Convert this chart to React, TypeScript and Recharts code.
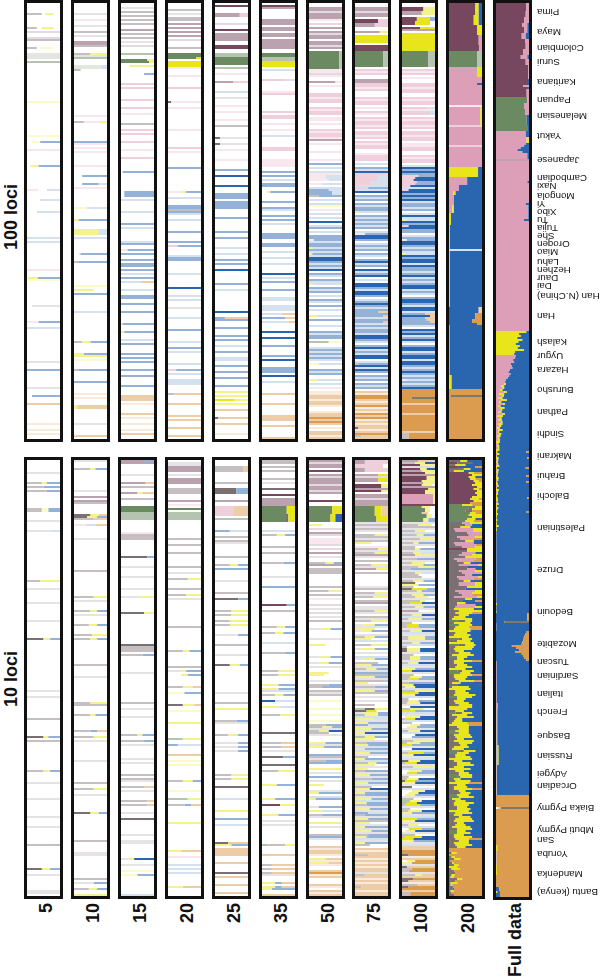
import { BarChart, Bar, XAxis, YAxis } from 'recharts';

// stack order, left to right. lower case = strong, upper = washed out, the rest = faint
const COLORS: Record<string, string> = {
  w: '#ffffff', m: '#76475f', M: '#baa3af', n: '#e3dadf', g: '#6b8a62', G: '#b5c4b0', h: '#e2e8e0',
  a: '#7a7074', A: '#c6bfc2', c: '#e6e3e4', p: '#dd9fb8', P: '#eecfdb', q: '#f8e7ee', v: '#ffffff',
  y: '#e9e51b', Y: '#f4f28d', z: '#fbfac9', b: '#2a65b0', B: '#94b2d7', e: '#d5e1ef',
  o: '#db9c4f', O: '#edcda7', r: '#f8ebdb', x: '#7d7a6a',
};
const STACK = Object.keys(COLORS);

const SIZES = ['5', '10', '15', '20', '25', '35', '50', '75', '100', '200'];

// each entry is row or row-row, then the share of every cluster in that row
const LOCI100 = [
  '5:A45v10Y25 12:A30v15Y35 14:n 17:n 18:A 22:A30v10z40 25:h 26:c 27:h 29:G 49:z 66:z 69:w15z25B 73:q 81:w5Y25v5B 93:q35v25e 98:w40e 104:w30e 117:e 119:e 133:q 137:w3Y30B 138:z 151:w15c 159:q35B 162:e 179:c 183:B 192:c 196:w15B 200:O 210:r 213:r 215:r',
  '5:c 8:q 11:c 14:A 16:c 19-20:M 21:A 25:A50Y 26:c 27:G 31-32:h80e 33:G20 56:q 59:A30q50Y 69:B 70:q 72:q 74:q 81:q 86:w25B 90:w25e25B 92:q 102:z40e 108:Y15B 113-115:Y75e 117:e 125:w15Y5B 129:A15B 141:z 143:Y60 145:B 154:e 169:A25Y25B 175:Y30B 176:Y 178:z 183:A15B 189:B 195:r 197:r 201-202:Y10O 210:c 216:O',
  '2:c 4:A 6:A 8:A 10:A 13:M 15:A 17:A 19:c 21:n 25:G 28:g80Y 29:g85Y 31:w25Y 35:w70B 40:P 42:P 48:P 52:P 55:q 60:A 63:P 65:P 69:P 73:q 77:P 84:w5B 94-96:w10B 98:e 104:e 110:B 112:e 119:e 120:B 123:q20B 125:B 128:B 130:B 131:B 133:B 135:e 137:B 139:e60O 143:e 146:B 147:B 150:B 154:B 160:Y5B 164:Y10B 168:e 170:B 175:B 177:B 179:B 183:B 186:B 191:B 196-198:O 200:r 205:O 207:r 210:r 213:r 215:O',
  '3:A 5:c 7:A 8:A 10:M 12:M 14:M 16:M 18:n 22:A 25-26:g 27:g85y 29-31:y 32:q 36:q 42:P 49:a10q 52:q 63:q 72:P 74:q 82:B 94:q40Y15B 97:e 101-102:B 103:A 104:B 105:e 108:e 114:B 119:B 121:P30B 126:e 127-128:B 135:e 142:b 146:e 148:e 152:c 157:e 163:B 169:e 172:B 174:e 180:e 183:P25B 185:e 188-190:e 195:A20O 200:O 206:O 208:O 212:O 216:O',
  '1:m 5-6:M75P 10:n 13:m 15-17:M 18:M 21:m 22:m 25-26:G 27-29:g 30:g 32:G 35:q 39:M55P 44:e 47:c 51:q 54:q 58:q 61:A 67:a15c 70:a15c 73:q 78:q 83:B 86:b 91:b 95-97:B 99-102:B 107:B 114:B 117:B 122:e 125:e 128:B 130:B 133:b 140:B 143:e 154:b 157:B30O 158:B 162:B 166:B 168:B 171:e 174:B 177-178:e 181:B 184:B 187:B 191:B 194:Y 196:Y 198:y60Y 200:Y 203:O 207:a10O 210:O 215:r',
  '1:m 2:M 8-10:M 12-13:M 15:M 16:M 18-22:M 25-26:g 27-28:G 29-31:y 33:e 38:P70e 44:q 45:P 54:P 56-57:P 60:q 63:q 66:e 72-73:P 78-81:q 84:B 86:B 88:e 90:B 91:B 94:w15Y10B 99:B 102:B 103:e 106:B 108:B 110:e 115-117:B 120:B 121:B 124:e 127:e 130:e 135:b 137:e 139:B 143:B 147-148:e 151-153:e 155:e60O 157:B70O 159:O20e 164:b 167:b 171:B 176:B 178:b 182-184:B 186:b 189:e 195:O 200:O 206-208:O 211:O 217:O',
  '2-3:M 4:n 5-6:M 7:M 8:q 10:n 12:M 14:M 15:n 16-17:M 19-20:M 21:n 22:M 24-32:g92G 33:q 34:q 35:n 36:q 39:M80q 41:q 45:P 46:P 47:q 48-49:P 52:P 53:q 54-55:P 57:q 58:q 60:q 63:P 64:q 65-66:P 67:q 68:M 70:q 74:q 78:q 80:B 82:e 84:e 85:q 86-87:q50e 88:q60e 90:q40e 92:e 93:e40B 94-95:e30B 96:A30B 98:e 100:e 101:z 103:q 105:e 107:e 109:b 111:e 112:B 114:e 116:B 117:B 118:q15B 119:e 120-121:B 122:Y10e 123:B 124:e 125:Y10B 126:e 127-128:b 129:B 130:e 131:B 132:e 133:b 135:B 136:e 138:B 139:e 140:Y10e 142:B 143:e 144:B 146:e 148:B 149:e 151:B 153:e 156:Y25e 158:B 161:e 164:B 165:e 166-167:B 169:G60z 172:e 173:B 174:e 175:B 176:e 177:B 178:e 180:z30e 183:B 184:e 185:B 188:Y25e 190:e 192:q 194:r 195:r 196-197:O 198:r 199:O 200:O 201:r 204:r 205-206:O 207:o 208:O 209:o 210:O 212:r 214:O 215:O 216:r 217:O',
  '2-3:M 4:n 5-6:M 8-9:m70P 10-11:M60P 14:M75Y 16-19:y 21-23:m 24-31:g85G 33:P 34:q 35:P 38:M 39:M 40-41:P 42:q 43:P 47:P 48:q 49-50:P 52:q 54:P 55:q 57:P 58:q 59-60:P 61:q 62:P 64-65:P 66:q 67:P 69:P 70:q 71-72:P 75:q 76-78:P 80:e 82:B 83:e 84:b 85:P 86-88:P70e 89-90:P50e 91:e 92:P40B 93:e 94:b 96:B 97:e 98:B 100:B 101:e 102-103:B 104:Y10e 106:B 107:e 108:B 109:e 110:B 111:e 112:B 114:e 115:q30B 116-117:b 118:B 120:e 121:B 122:e 123:B 125:B 126:e 128:B 129:b 130:e 131:B 133:b 134:e 135:B 136:b 138:e 140:b 141:b 142:B 143:e 144-145:b 146:B 148:e 149:B 150:b 151:B 152:e 153:B 154:B70O 155:B 156:B85O 157:e 158:B 159:B85O 160:e 161:B 162:e 163:B 164:B 165:e 166:b 167:b 168:B 169:e 171:B 172:b 173:e 174:B 175:e 176-177:b 179:e 180:A10B 181:b 182:e 183:b 184:B 186:B 187:e 188:B 190:B 191:e 192:B 194:O 195:r 196-197:o 198:O 199:r 200:O 201:o 202:r 203:O 204:r 205:o 206:O 207:o 208:r 209:O 210:r 211:O 212:a10O 213:r 214:O 215:o 216:A20O 217:O',
  '2-3:m65Y 4-5:M60Y 7-8:m45y40B 9-10:m40y45 12:m55y 13:M 15-23:y 24-31:g80G 33:P 34:q 35:P 37:q 40-41:P 42:q 43-44:P 47:P 48:q 49-50:P 52:P80e 53:q 54-55:P85e 57:P 58:q 59-60:P 61:q 62:P 64-65:P 66:q 67-68:P 70:q 71:q 72-73:P 76:P 77:q 78-79:P 81:e 82:b 83:B 84:b 85:B 86:P50B 87:P40b 88:P35b 89:P45B 90:P40B 91:P25b 92:e 93:P20b 94:b 95:B 96:b 97:B 98:b 99:e 100-101:B 102:e 103:B 105:e 106:b 107:e 108:Y15e 109:b 110:B 111:P20b 112:b 113:B 114:B 116:e 117:B 118:q15B 119:b 120:b 121:B 122:e 123:B 124:e 125:Y10e 126:b 127:B 128:b 129:b 130:e 131:b 132:B 133:B 134:e 135:B 136:b 137:e 138:B 139:e 140:B 141:b 142:b 143:e 144:B 145:e 147:B 148:b 149:b 150:B 151:e 152:b 153:b 154:e 155:B70O 156:b85O 157:B70O 158:B75O 159:B85O 160:B 161:e 163:b 164:B 165:b 166:e 167:B 168:b 169:e 171:B 172:b 173:b 174:e 175:B 176:b 177:b 178:e 179:b 180:b 181:B 182:e 183:B 184:b 185:B 186:e 187:B 188:q15e 189:B 190:e 191:B 192:b 193-199:o 197:o30x 200:O 201-204:o 205:O 206-213:o 214:O 215-217:A20o',
  '0-5:m80y10b 6-10:m75y15b 11-15:m85y 16-20:m90p 21-23:m92p 24-31:g85G 32-36:p85y 37-39:p 40:p85b 41-50:p 51:q 52-60:p95y 61:P 62-70:p 71:P 72-81:p 82-86:y88b 87-90:p55b 91-93:p30b 94-95:y8p12b 96-100:p15b 101-104:p10y5b 105-110:y6b 111-122:y3b 123:e 124-151:y3b 152-154:b90O 155-157:b80o 158-159:b70o 160:b85o 161-185:y2b 186-192:y8b 193-195:o 196:o5x 197-217:o',
];

const LOCI10 = [
  '6:c 11:A45Y15B 13:A50B 15:A60B 24-25:A45z20B 30:c 35:c70e 60:A40Y 64:c 71:c 80:c 89:a50Y20B 115:c 118:c 129:A 138:a50Y15B 140:A 155:A50Y20B 161:c 169:c 178:c 183:c 192:A 204:a45Y25B 207:c 215:c 216:c',
  '0:c 4:A50Y15B 15:c 18:M 20:M 21:A 27:a50Y25O 28:a40Y30B 29:A60O 32:q35e30O 39:c 55:A 68:A60Y 70:c 75:A50Y20B 77:c 82:A45Y25B 87:A55Y 89:A50Y20B 102:A 108:c 121:A50Y 122:A 127:A50Y15B 135:A50B20O 138:A60Y 140:c 150:c 161:A 164:A60Y 167:c 176:a50Y25B 190:A 196:c 197:c 209:A 211:c60B 214:A45Y25B 217:Y',
  '0:M70B 1:M 7:c 11:M75O 13:A 16:M50Y15O 19:A 23-25:g 26:G 27-29:G 36:q 37-39:A 48:a80B 53:c 58:c 64:c 68:c60Y 76:a70Y 92:a 93-95:A 97:A65B 106:c 121:A 124:c 128:c 137:A50Y15B 140:A70B 142:c 149:c 151:c 157:A 159:A 160:c 163:A70O 165:c 170:A80O 172:A80O 176:c 179:a 187:c 190:c 191:c 199:c25Y15b 202:c 205:z 207:z50B 217:e',
  '1-2:c 3-5:M 7:c 9-11:M 14-16:A 20:M 22:q 24:g 26-29:G 39:A 42:A 46:A 53:A 56:c 59:A60Y 64:A 67:A55Y 69:c 83:A 95:A45Y20B 103:A 105:c40Y15B 107:w40Y20B 113:A45Y30O 116:z50B 122:a45Y35O 125:z 131:Y 139:G45Y 142:e70B 147:O 150:z 152:z 160:A45Y30B 165:z 169:G60Y 172:A50B20O 181:Y 195:O60Y 198:q 202:e 204:e 206:e 213:Y45O',
  '3-5:A85O 11:A 14-16:a65B 20:M 23-27:P55O 29:G 35:B45e 38:A 40:A 41:c 48:A 52:A45Y25B 54:B 60:c 66:A 69:a70B 75:A50Y 77:A50Y 80:A45Y 82:A45Y 87:c70B 92:A 97:c 102:a45Y30B 116:c 121:A 124:Y 130:A65B 131:c 137:A40Y30B 141:c70B 143:c70B 145:c70B 157:A50Y 159:A50Y 163:a 169:e 175:Y 179:B 182:e 191:a40O 192:Y50B 194-197:O 201:O 206:a 208:O 212:O 216:O',
  '0-1:A 3:A 5:A 9:A 11:c 14:a 17:m 19-22:M 23-26:g75y 27-30:g70a10y 35:e 37:A45Y25B 43:A 46:A 51:A65B 58:c 63:B 72:m75B 75:A 83:A45Y25B 86:A40Y25B 91:e 96:A70B 105:A50Y 107:A50Y 112:Y50B 114:Y50B 115:e 117:A40Y25B 120:e60b 123:e50Y 127:A55Y 136:a 141:A60O 143:A60O 145:c 148:a65B 152:a 155:A50Y 162:Y45B 169:B60Y 172:m55Y 177:Y50B 180:c 182:c 192:A50G20Y 197:O 202:A30O 204:A30O 206:A30O 207:c 211:Y40B20O 213:Y40B20O 214:Y30B 217:O',
  '0:M 1:n 2-3:M 5:m 7:M 8:n 9:M 10-11:M 12:n 13-14:M 15:n 16:M 20:m 23-26:g70y 27-30:g65y15b 32:Y40 34:n 36:M 37:n 39-41:q 42:n 44:n 46:M 48:c 51:A50Y25B 52:M 54-56:A 63:A 65:A60Y 67:A 69:q 72:n 74:c 76:n 78:c 80:A 84:c40Y25B 89:c 92:Y50 98:c30Y35B 101:c30Y30B 103:c 106:Y60 107:Y45 110:c 112:A60B 113:A40B 115:A 116:c 117:A 120:z 124:z 127:z 130:z 132:A50B 133:G40Y30B 134:c 135:A30Y30b 136:A60 137:c 141:Y50B 142:c 143:Y45B 147:B 148:A 149:c 150:A50B 151:B 154:Y 156:c 158:B 160:c 162:Y45 165:c 166:Y30B 168:e 169:Y20B 173:c30B 175:Y40e 177:A40B 178:c 181:Y 183:c 187:A 188:B 189:c 193:O 194:r 195:O 196:O 197:r 199:Y50O 200:r 201:Y60O 202:r 205:O 206:o 207:r 208:O 212:O 213:r 215:O 216:r 217:O',
  '0-1:P70M 2-3:P85 4-5:P70M 7:M70y 8:n 9-10:M70y 12-13:m80Y 14:M 15:m80Y 17-18:M 19:n 20-22:M 23-27:g60y20O 28-30:g65y 31:c 32:A 33:c 34:A 35:c 37:A60Y 38:A 39:c 40:A 41:Y50 43:q 44:A70Y 45:c 46:A60Y 47:M 48:c 50:A 52:A50Y 53:c 54:M65Y 56:A 63:c 64:A 66:A60Y 67:c 68:A55Y 70:A 71:M 73:c 74:c 75:A60Y 76:c 78:A 79:c 80:A50Y 82:c25Y35B 83:c 84:Y60 85:c20Y30B 87:c 88:A30Y30B 89:Y50 90:e 92:A50Y 94:c20Y40B 96:c 98:e 99:c25Y35B 101:A70 102:Y50B 103:c 104:A35Y30B 105:c 106:B 107:A 108:Y60B 109:c 110:A 111:Y40 112:c 113:A60B 114:c 115:Y60B 116:A 118:c 120:c 122:A60 124:a30Y40G 125:a35y30 126:c25Y45B 127:G30Y40B 128:e 129:Y55e 130:c 131:Y40B 132:e60B 133:c 134:Y50B 135:c 136:Y30b 137:c 138:G30Y30B 139:Y60 140:c 141:A35B 142:Y40B 143:e 144:c30B 145:e 146:Y45B 147:c 148:A40 149:Y30B 150:e 151:A40Y25B 152:Y60 153:c 154:Y40 155:A30B 156:c 157:Y45B 158:c 159:A50B 160:e 161:Y40B 162:c 163:A50 164:Y45b 165:c 166:Y30B 167:A30B 168:c 169:Y50B 170:e 171:Y35B 172:A35B 173:c 174:Y45B 175:c 176:e60B 177:A30B 178:c 179:Y40B 180:A 181:Y45 182:c 183:Y30B 184:c 185:Y50B 186:c 187:A40B 188:Y35B 189:e 190:c 191:Y30B 192:A45 194:O 195:r 196:O 197:A40O 198:O 199:r 200:O 201:r 202:O 203:r 204:O 205:O 206:c 207:A30O 208:O 209:r 210:O 211:r 212:O 213:A20O 214:O 215:r 216:O 217:O',
  '0:M50O 1:A40Y30b 2:m55Y 3:n 4:m55Y20b 5:M60Y 6:m70Y 7:M 8-9:m75Y 10:m60Y 11:M65Y 12:m60Y30 13:M 14:m80Y 15-16:m70Y 17-21:p95Y 22:m 23:g60Y25 24-25:g70Y15 26:g60O20 27-28:g75Y15 29-30:g65Y15B 31:c 32:A50Y40 33:A 34:c 35:A40Y30 36:e 37:A45Y20B 38:c 39:A55Y 40:c 41:A35Y15B 42:c 43:A40 44:A40Y15B 45:c 46:A35Y20e 47:M40Y 48:c 49:A45B 50:c 51:A30Y40 52:c25Y40B 53:A50Y 54:A25B 55:c 56:A40Y20e 57:A50 58:A60 59:c 60:A35Y30B 61:a40 62:Y50B 63:A35 64:a30y45B 65:A45Y15B 66:c 67:A30Y35B 68:A40Y40 69:c 70:A55Y15 71:A25y35b 72:c 73:A40Y25B 74:c 75:M50 76:c 77:A30Y30b 78:e 79:A20Y40B 80:c 81:A30 82-83:A15y35B 84:c 85:A25Y35b 86:e 87:c 88-89:A20Y50B 90:c 91:A30Y25B 92:e 93:A15 94-95:a15Y40b 96:c 97:A35 98-99:A25Y30B 100:c 101:A20Y30b 102:e 103:c 104:Y40B 105:y30b 106:c 107:A35 108:A25Y35B 109:A20y30B 110:c 111:A20B 112:Y35b 113:A10Y30b 114:e 115:A40Y 116:y50b 117:Y40b 118:e 119:A20 120:A20Y30B 121:A15Y40b 122:c 123:w25b 124:A25Y40 125:y40B 126:e 127:c 128:w10Y45b 129:A10y30b 130:e 131:A30 132:w25Y30B 133:w15Y30B 134:c 135:A20Y35b 136:e 137:w40b 138:w30B 139:c 140:A35Y 141:A15Y40B 142:y30B 143:c 144:w30b 145:e 146:A20y45B 147:Y35b 148:c 149:e 150:a20Y35b 151:A10y35b 152:c 153:A35Y 154:e 155:w20Y40B 156:w15y30B 157:c 158:A20 159:A15Y35b 160:a10y30B 161:Y40b 162:c 163:a30 164:e 165:w30Y40b 166:w20Y30b 167:w10Y30B 168:c 169:A35 170:G25Y35b 171:G15y30b 172:A10y45B 173:c 174:A25 175:A20Y40b 176:Y30B 177:c 178:e 179:y45B 180:Y40b 181:c 182:A20Y30 183:e 184:w20y40B 185:w10Y30b 186:c 187:A40 188:A10y50b 189:y35b 190:Y35B 191:c 192:e 193:O 194:O 195-196:o 197:a20o 198:r 199:O 200:w15Y25o 201:Y30o 202:c 203:a15O 204:A30o 205:A20o 206:c 207:A40Y20O 208:O 209:a35o 210:a20O 211:r 212:A50O 213:a20o 214:o 215:O 216:A25o 217:A25o',
  '0:a35y20b 1:a45m25b 2:a20y30b 3:m30b50o 4:a45y20b 5:a15y30b 6:m60y15o 7:m70y 8:m60y20b 9:m65y15o 10:m75y15o 11:m80y 12:m70y 13:m85y 14:m75y15o 15:m85y 16:m80y 17:m85y 18:m70y 19:m65y25o 20:m75y 21:m65o 22:g40y30o 23:g70a10y 24:g60a10y 25:a20g50o 26:g65y15o 27:g60y 28:g70y 29:g55y25b 30:g50y25o 31:a40p25y 32:a50p20b 33:a35y30b 34:p60a15y 35:p55a20y 36:a55p 37:a60p 38:a25p55y 39:a35p40o 40:a50y25b 41:p60a15b 42:p60a20o 43:a40p40y 44:m55y 45:a55y 46:a40p40b 47:a30p40y 48:a50y 49:p65a15o 50:p50a25o 51:a45y20b 52:a30p60y 53:a55b 54:a55p25b 55:a30p50y 56:a40p 57:a50p20b 58:a25p65y 59:a30p45o 60:a45y20b 61:a30p50y 62:p50a30y 63:a55y 64:a50b 65:p60a20y 66:a30p40y 67:a40p30o 68:p70a15y 69:a50y20b 70:a40o20b 71:a25y25b 72:a25p55b 73:p60a20y 74:a15y60b 75:a30y 76:a20y50o 77:a30y30b 78:a15y35b 79:a10y60b 80:a25g25y20b 81:a15y50b 82:g30y40b 83:a20y40o 84:a15y50o 85:y65b 86:a20y35b 87:a15y50b 88:y60b 89:a10g30y30b 90:a25y40b 91:y75b 92:a20g30y30b 93:a20y55b 94:a15y55b 95:a20y25b 96:a30y35b 97:a10y65b 98:g25y30b 99:a25y20b 100:a15y55o 101:a15y30b 102:a25y30b 103:a20y50b 104:y50b 105:a15g25y35b 106:g35y30b 107:a15y55o 108:a15y40b 109:a20y30b 110:a30y45o 111:a10y25b 112:a25b 113:a10y50b 114:y65b 115:a20y30b 116:a20y40b 117:a15y65b 118:g25y45b 119:a25y25b 120:a15y30b 121:a20y40b 122:a30y40b 123:y70b 124:y55b 125:a20y25b 126:a20g20y30b 127:a10y45b 128:a25y50b 129:a20y20b 130:a15y25b 131:a10y45o 132:y60o 133:a25y35b 134:a30y30b 135:g20y40b 136:g30y30b 137:a15y50b 138:a20y50b 139:a25y20b 140:a15y60b 141:a30y40b 142:a35y20b 143:a15y45b 144:a10y35b 145:a15g30y35b 146:g25y35b 147:a20y30b 148:a20y45b 149:y70b 150:a15y25b 151:a25y40b 152:a25y50b 153:a15y30b 154:y65b 155:a20y25b 156:a30y30b 157:g30y40b 158:g35y35b 159:a15y20b 160:a20y45b 161:y60o 162:a25y25b 163:a15y40b 164:a15y55o 165:a30y20b 166:a35y30b 167:g25y35b 168:g30y45b 169:a10y25b 170:a20y30b 171:a15y60b 172:a15y45b 173:a25y30b 174:a25y40b 175:y60b 176:g20y50b 177:a15y25b 178:a30y35b 179:a20y50b 180:a15y60b 181:a25y20b 182:a20y30b 183:a10y55b 184:a25y45b 185:g25y25b 186:g25y40b 187:a15y30b 188:a15y55b 189:a20y40o 190:a30y30b 191:a15y45b 192:a20y50b 193:a25y25b 194-195:o 196:a8y15o 197:o 198:a8y10o 199:a15y20o 200:a5o 201:a10y5o 202:a15y15o 203:y25o 204:a8y25o 205:a15o 206:a20o 207:a8y10o 208:a5y10o 209:a25y15o 210:a18o 211:a5y20o 212:a5y5o 213:a12o 214:a10b5o 215:a5y10o 216:a8o 217:a15o',
];

const FULL_DATA =
  '0-3:m92p 4-6:m90p 7-9:m85p 10-11:m80p15b 12-14:m85p10b 15-17:m78p12b 18-19:m88p 20-22:m90p 23-25:m82p 26-27:m75p20b 28-30:m90p 31-37:m98p 38-40:m97b 41:m82p 42:m97b 43-46:m93p 47-49:g95p 50-52:g85p 53-55:g88p 56-60:g93b 61-63:g97b 64-66:p90b 67-69:p93y 70:p90b 71:p85b 72:p75b 73:p65b 74:p80b 75-77:p95b 78:M 79-88:p 89:p95b 90-99:p 100:p90b 101-107:p98b 108:p85b 109-163:p 164:y92b 165:y70b 166:y75b 167:y65b 168:y80b 169:y68b 170:y60b 171:y72b 172:y66b 173:y85b 174:y58b 175:y55b 176:p60b 177:p58b 178:p52b 179:p55b 180:p45b 181:p48b 182:p50b 183:p42b 184:p38b 185:p44b 186:p40b 187:p36b 188:p30b 189:p28b 190:p25y5b 191:p15y10b 192:p20y5b 193:p12y8b 194:p25y8b 195:p10y15b 196:p18y6b 197:p8y12b 198:p15y18b 199:p10y6b 200:p22y5b 201:p6y8b 202:p12y14b 203:p15y4b 204:p8y9b 205:p20y7b 206:p5y16b 207:p12y5b 208:p8y10b 209:p16y4b 210:p6y14b 211:p10y6b 212:p4y8b 213:p8y12b 214:p6y4b 215:p10y6b 216:p4y10b 217:p8y3b 218:p6y6b 219:y12b 220:p5y3b 221:p3y7b 222:p7y3b 223:y10b 224:y4b88o 225:p4y6b 226:y3b 227:y8b87o 228:p3y4b 229:y6b 230:p5y2b 231:y10b 232:y3b87o 233:p4y4b 234:y7b 235:p3y3b 236:y5b87o 237:y8b 238:p5y2b 239:y4b88o 240:y6b 241:p3y5b 242:y3b 243:y9b 244:p4y2b 245:y6b 246:y3b 247:y5b90o 248:y6b 249:p3y2b 250:y8b 251:y3b 252:p2y5b 253:y4b 254:y3b90o 255:y6b 256:y3b 257:y2b 258:y4b 259:y2b 260:y3b 261:y8b 262:y2b 263:y3b 264-299:p1b 300:y3b 301-303:p1b 304:y2b 305-308:b95o 309:b25x 310-313:p1b 314:b93o 315:b88o 316:b85o 317:b84o 318:b82o 319:b80o 320:b78o 321:b48o 322:b62o 323:b70o 324:b58o 325:b78o 326:b82o 327:b85o 328:b92o 329-349:p2b 350-352:p3y2b 353-370:A4b 371-380:A6y2b 381-395:A3b 396-401:o 402:O8v6x 403-420:o 421-423:y4o 424-430:A2o 431-435:y3o 436-441:o 442-443:b10o 444:y4b8o 445-446:b12o';

// names of the populations, and the row of the full data column each one sits on
const POPULATIONS = [
  'Pima', 'Maya', 'Colombian', 'Surui', 'Karitiana', 'Papuan', 'Melanesian', 'Yakut', 'Japanese', 'Cambodian', 'Naxi', 'Mongola', 'Yi', 'Xibo', 'Tu', 'Tujia', 'She', 'Oroqen', 'Miao', 'Lahu', 'Hezhen', 'Daur', 'Dai', 'Han (N.China)', 'Han', 'Kalash', 'Uygur', 'Hazara', 'Burusho', 'Pathan', 'Sindhi', 'Makrani', 'Brahui', 'Balochi', 'Palestinian', 'Druze', 'Bedouin', 'Mozabite', 'Tuscan', 'Sardinian', 'Italian', 'French', 'Basque', 'Russian', 'Adygei', 'Orcadian', 'Biaka Pygmy', 'Mbuti Pygmy', 'San', 'Yoruba', 'Mandenka', 'Bantu (kenya)',
];
const POPULATION_ROWS = [
  4, 14, 22, 29, 39, 48, 56, 66, 78, 87, 91, 96, 100, 104, 108, 112, 116, 120, 124, 129, 133, 137, 141, 146, 156, 169, 176, 183, 193, 204, 215, 226, 236, 246, 262, 283, 304, 320, 329, 336, 345, 354, 366, 376, 385, 391, 402, 413, 418, 425, 435, 444,
];

const parseRows = (spec: string, count: number) => {
  const rows: any[] = Array.from({ length: count }, (_, row) => ({ row }));
  for (const token of spec.trim().split(/\s+/)) {
    const [span, code] = token.split(':');
    const [from, to] = span.split('-').map(Number);
    const parts = [...code.matchAll(/([a-zA-Z])(\d*)/g)];
    const named = parts.reduce((sum, p) => sum + Number(p[2] || 0), 0);
    for (let i = from; i <= (to ?? from) && i < count; i++) {
      rows[i] = { row: i };
      parts.forEach((p) => {
        rows[i][p[1]] = p[2] ? Number(p[2]) : 100 - named;
      });
    }
  }
  const used = STACK.filter((k) => rows.some((r) => r[k]));
  rows.forEach((r) => used.forEach((k) => { r[k] = r[k] ?? 0; }));
  return { rows, used };
};

function PopulationTick({ x, y, payload }: any) {
  const i = POPULATION_ROWS.indexOf(payload.value);
  if (i < 0) return <g />;
  return (
    <text
      x={x}
      y={y}
      transform={`rotate(180 ${x} ${y})`}
      textAnchor="end"
      dominantBaseline="central"
      fontSize={9.8}
      fontFamily="Liberation Sans"
      fill="#111"
    >
      {POPULATIONS[i]}
    </text>
  );
}

function Panel({ spec, count, left, top, height, labels }: any) {
  const { rows, used } = parseRows(spec, count);
  const inner = 33;
  const spare = labels ? 10 : 0;
  return (
    <div style={{ position: 'absolute', left, top, width: inner, height, border: '3px solid #111', background: '#fff' }}>
      <BarChart
        layout="vertical"
        width={labels ? inner + 110 : inner}
        height={height + spare}
        data={rows}
        margin={{ top: 0, right: 0, bottom: spare, left: 0 }}
        barCategoryGap={0}
        barGap={0}
        style={{ position: 'absolute', filter: 'blur(0.4px)' }}
      >
        <XAxis type="number" domain={[0, 100]} allowDataOverflow hide />
        {labels ? (
          <YAxis
            type="category"
            dataKey="row"
            orientation="right"
            width={110}
            interval={0}
            axisLine={false}
            tickLine={false}
            tickSize={0}
            tickMargin={8}
            tick={<PopulationTick />}
          />
        ) : (
          <YAxis type="category" dataKey="row" hide />
        )}
        {used.map((k) => (
          <Bar key={k} dataKey={k} stackId="a" fill={COLORS[k]} isAnimationActive={false} />
        ))}
      </BarChart>
    </div>
  );
}

const COLUMN_LEFT = [24, 71, 118, 165, 212, 259, 306, 352, 399, 446, 493];

export default function App() {
  return (
    <div style={{ position: 'absolute', left: 0, top: 0, width: 600, height: 977, background: '#fff', overflow: 'hidden' }}>
      {LOCI100.map((spec, i) => (
        <Panel key={`a${i}`} spec={spec} count={218} left={COLUMN_LEFT[i]} top={0} height={436} />
      ))}
      {LOCI10.map((spec, i) => (
        <Panel key={`b${i}`} spec={spec} count={218} left={COLUMN_LEFT[i]} top={457} height={436} />
      ))}
      <Panel spec={FULL_DATA} count={447} left={COLUMN_LEFT[10]} top={0} height={894} labels />
      <svg width={600} height={977} style={{ position: 'absolute', left: 0, top: 0, pointerEvents: 'none' }}>
        <g fontFamily="Liberation Sans" fontWeight="bold" fontSize={18} fill="#111">
          {[...SIZES, 'Full data'].map((label, i) => (
            <text key={label} textAnchor="end" transform={`translate(${COLUMN_LEFT[i] + 28} 903) rotate(-90)`}>
              {label}
            </text>
          ))}
          <text transform="translate(16.5 250) rotate(-90)">100 loci</text>
          <text transform="translate(16.5 707) rotate(-90)">10 loci</text>
        </g>
      </svg>
    </div>
  );
}
